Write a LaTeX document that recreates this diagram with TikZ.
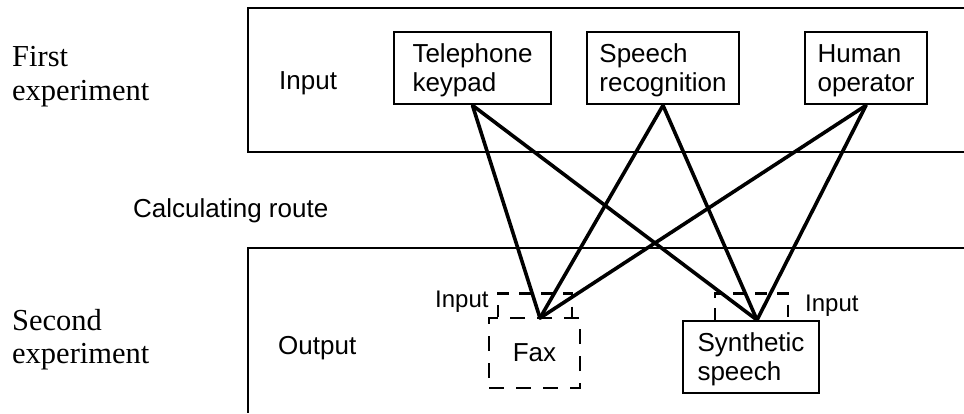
\documentclass[tikz,border=0pt]{standalone}
\usepackage{fontspec}
\setmainfont{Liberation Sans}
\newfontfamily\serifl{Liberation Serif}
\begin{document}
\begin{tikzpicture}[x=1pt,y=-1pt,
  frameline/.style={line width=2.8pt},
  box/.style={draw,line width=2.8pt,minimum height=72pt,align=left,inner sep=0pt,
    text depth=0pt,font=\fontsize{26}{29}\selectfont},
  dbox/.style={draw,line width=2.8pt,dash pattern=on 15pt off 12pt,minimum height=70pt,
    inner sep=0pt,font=\fontsize{26}{29}\selectfont},
  dline/.style={line width=2.8pt,dash pattern=on 12pt off 10pt},
  link/.style={line width=3.6pt,line cap=round},
  lbl/.style={inner sep=0pt,anchor=base west,font=\fontsize{26}{29}\selectfont},
  slbl/.style={inner sep=0pt,anchor=base west,font=\fontsize{24}{28}\selectfont},
  serlbl/.style={inner sep=0pt,anchor=base west,font=\serifl\fontsize{30.5}{34}\selectfont}
]
\useasboundingbox (0,0) rectangle (964,413);

% frames
\draw[frameline] (964,8) -- (248,8) -- (248,152) -- (964,152);
\draw[frameline] (964,248) -- (248,248) -- (248,413);

% left labels
\node[serlbl] (f1) at (12,66) {First};
\node[serlbl] (f2) at (12,100) {experiment};
\node[serlbl] (s1) at (12,330) {Second};
\node[serlbl] (s2) at (12,363) {experiment};

\node[lbl] (inlbl) at (279,89) {Input};
\node[lbl] (calc) at (133,217) {Calculating route};
\node[lbl] (outlbl) at (278,354) {Output};

% input boxes
\node[box,minimum width=157pt] (tel) at (472.5,68) {Telephone\\keypad};
\node[box,minimum width=152pt] (sr) at (663,68) {Speech\\recognition};
\node[box,minimum width=122pt] (ho) at (866,68) {Human\\operator};

% output boxes
\node[dbox,minimum width=91pt] (fax) at (534.5,353) {Fax};
\node[box,minimum width=136pt] (syn) at (751,357) {Synthetic\\speech};

% small dashed input boxes
\draw[dline] (fax.north) ++(-36.5,0) coordinate (fa) -- ++(0,-23) -- ++(74,0) -- ++(0,23) coordinate (fb);
\draw[dline] (syn.north) ++(-36,0) coordinate (sa) -- ++(0,-26) -- ++(73,0) -- ++(0,26) coordinate (sb);

\node[slbl] (faxin) at (435,307) {Input};
\node[slbl] (synin) at (805,311) {Input};

% connection points
\coordinate (pf) at (540,318);
\coordinate (ps) at (757,320);

% connectors
\draw[link] (tel.south) -- (pf);
\draw[link] (tel.south) -- (ps);
\draw[link] (sr.south) -- (pf);
\draw[link] (sr.south) -- (ps);
\draw[link] (ho.south) -- (pf);
\draw[link] (ho.south) -- (ps);
\end{tikzpicture}
\end{document}
